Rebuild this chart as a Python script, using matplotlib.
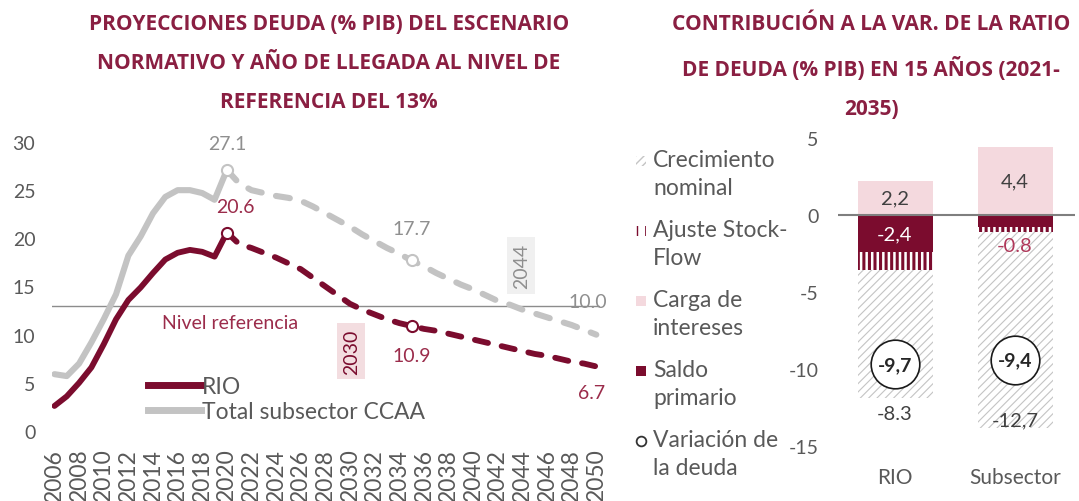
import matplotlib
matplotlib.use("Agg")
import matplotlib.pyplot as plt
from matplotlib.lines import Line2D
from matplotlib.patches import Rectangle

plt.rcParams['font.family'] = ['Lato', 'DejaVu Sans']
plt.rcParams['axes.unicode_minus'] = False

# ---- left chart: debt projections (% PIB) ----
years_hist = list(range(2006, 2021))
rio_hist = [2.6, 3.6, 5.0, 6.6, 9.0, 11.6, 13.6, 14.9, 16.4, 17.8, 18.5, 18.8, 18.6, 18.1, 20.6]
ccaa_hist = [5.9, 5.7, 7.0, 9.2, 11.6, 14.2, 18.2, 20.2, 22.6, 24.3, 25.0, 25.0, 24.7, 24.0, 27.1]
years_proj = list(range(2020, 2051))
rio_proj = [20.6, 19.4, 19.0, 18.5, 18.0, 17.4, 16.8, 15.9, 15.0, 14.1, 13.2, 12.6, 12.1, 11.6, 11.2,
            10.9, 10.6, 10.4, 10.1, 9.8, 9.5, 9.2, 8.9, 8.6, 8.3, 8.0, 7.8, 7.5, 7.2, 7.0, 6.7]
ccaa_proj = [27.1, 25.7, 25.0, 24.7, 24.4, 24.2, 23.9, 23.3, 22.6, 21.9, 21.2, 20.4, 19.7, 19.0, 18.4,
             17.7, 17.1, 16.4, 15.8, 15.2, 14.7, 14.1, 13.5, 13.1, 12.6, 12.2, 11.8, 11.4, 11.0, 10.5, 10.0]
ref_level = 13
rio_year_ref = 2030
ccaa_year_ref = 2044
marked_years = [2020, 2035]

# ---- right chart: contributions 2021-2035 ----
categories = ['RIO', 'Subsector']
carga = [2.2, 4.4]
saldo = [-2.4, -0.8]
stock_flow = [-1.2, -0.3]
crecimiento = [-8.3, -12.7]
variacion = [-9.7, -9.4]
carga_lbl = ['2,2', '4,4']
saldo_lbl = ['-2,4', '-0.8']
crec_lbl = ['-8.3', '-12,7']
var_lbl = ['-9,7', '-9,4']

RED = '#7b0c2e'
TITLE = '#8a1f42'
PINK = '#f4d9de'
GRAY = '#c3c3c3'
GTXT = '#8f8f8f'
LRED = '#9b2c4b'
TICK = '#595959'

W, H = 1079, 502
fig = plt.figure(figsize=(W / 100, H / 100), dpi=100)

# titles
title_kw = dict(ha='center', va='top', fontsize=15, fontweight='bold', color=TITLE,
                linespacing=2.14, family=['Open Sans', 'DejaVu Sans'])
fig.text(329 / W, 1 - 14 / H,
         'PROYECCIONES DEUDA (% PIB) DEL ESCENARIO\nNORMATIVO Y AÑO DE LLEGADA AL NIVEL DE\nREFERENCIA DEL 13%',
         **title_kw)
fig.text(871 / W, 1 - 14 / H,
         'CONTRIBUCIÓN A LA VAR. DE LA RATIO\nDE DEUDA (% PIB) EN 15 AÑOS (2021-\n2035)',
         **title_kw)

# ---------------- left axes ----------------
ax1 = fig.add_axes([52 / W, (H - 432) / H, 548 / W, 289 / H])
ax1.set_xlim(2005.8, 2050.3)
ax1.set_ylim(0, 30)
for s in ax1.spines.values():
    s.set_visible(False)

ax1.axhline(ref_level, color='#8c8c8c', lw=1, zorder=1)

dash = (0, (2.3, 2.4))
ax1.plot(years_hist, ccaa_hist, color=GRAY, lw=4.4, solid_capstyle='round', zorder=2)
ax1.plot(years_proj, ccaa_proj, color=GRAY, lw=4.4, ls=dash, dash_capstyle='round', zorder=2)
ax1.plot(years_hist, rio_hist, color=RED, lw=4.2, solid_capstyle='round', zorder=3)
ax1.plot(years_proj, rio_proj, color=RED, lw=4.2, ls=dash, dash_capstyle='round', zorder=3)

for yr in marked_years:
    i = years_proj.index(yr)
    ax1.plot(yr, ccaa_proj[i], 'o', ms=8, mfc='white', mec=GRAY, mew=1.5, zorder=4)
    ax1.plot(yr, rio_proj[i], 'o', ms=8, mfc='white', mec=RED, mew=1.5, zorder=4)

lbl = dict(fontsize=14, ha='center', va='center')
ax1.text(2020, ccaa_proj[0] + 2.7, f'{ccaa_proj[0]:.1f}', color=GTXT, **lbl)
ax1.text(2020.7, rio_proj[0] + 2.7, f'{rio_proj[0]:.1f}', color=LRED, **lbl)
ax1.text(2035, ccaa_proj[15] + 3.3, f'{ccaa_proj[15]:.1f}', color=GTXT, **lbl)
ax1.text(2035, rio_proj[15] - 3.1, f'{rio_proj[15]:.1f}', color=LRED, **lbl)
ax1.text(2049.3, ccaa_proj[-1] + 3.4, f'{ccaa_proj[-1]:.1f}', color=GTXT, **lbl)
ax1.text(2049.6, rio_proj[-1] - 2.7, f'{rio_proj[-1]:.1f}', color=LRED, **lbl)

ax1.text(2020.3, 11.3, 'Nivel referencia', color=LRED, **lbl)
ax1.text(rio_year_ref + 0.1, 8.3, str(rio_year_ref), rotation=90, ha='center', va='center',
         fontsize=14, color=RED, bbox=dict(facecolor='#f3dde0', edgecolor='none', pad=4))
ax1.text(ccaa_year_ref - 0.1, 17.2, str(ccaa_year_ref), rotation=90, ha='center', va='center',
         fontsize=14, color=GTXT, bbox=dict(facecolor='#f0f0f0', edgecolor='none', pad=4))

ax1.set_yticks(range(0, 31, 5))
ax1.set_xticks(range(2006, 2051, 2))
ax1.set_xticklabels([str(y) for y in range(2006, 2051, 2)], rotation=90)
ax1.tick_params(axis='y', length=0, pad=12, labelsize=14, labelcolor=TICK)
ax1.tick_params(axis='x', length=0, pad=12, labelsize=16.5, labelcolor=TICK)

ax1.legend(handles=[Line2D([], [], color=RED, lw=5), Line2D([], [], color=GRAY, lw=5)],
           labels=['RIO', 'Total subsector CCAA'], loc='upper left',
           bbox_to_anchor=(137 / W, 1 - 366 / H), bbox_transform=fig.transFigure,
           frameon=False, borderpad=0, handlelength=2.3, handletextpad=0.05,
           labelspacing=0.15, fontsize=16.5, labelcolor=TICK)

# ---------------- right axes ----------------
ax2 = fig.add_axes([838 / W, (H - 447) / H, 237 / W, 308 / H])
ax2.set_xlim(-0.475, 1.5)
ax2.set_ylim(-15, 5)
for s in ax2.spines.values():
    s.set_visible(False)

x = list(range(len(categories)))
bw = 0.625
base_sf = saldo
base_cr = [s + f for s, f in zip(saldo, stock_flow)]
ax2.bar(x, carga, bw, color=PINK, lw=0, zorder=2)
ax2.bar(x, saldo, bw, color=RED, lw=0, zorder=2)
sf = ax2.bar(x, stock_flow, bw, bottom=base_sf, facecolor='white', edgecolor=RED, hatch='|||', lw=0, zorder=2)
cr = ax2.bar(x, crecimiento, bw, bottom=base_cr, facecolor='white', edgecolor='#c4c4c4', hatch='////', lw=0, zorder=2)
for p in sf:
    if hasattr(p, 'set_hatch_linewidth'):
        p.set_hatch_linewidth(2.2)
for p in cr:
    if hasattr(p, 'set_hatch_linewidth'):
        p.set_hatch_linewidth(0.8)
ax2.axhline(0, color='#7f7f7f', lw=1.5, zorder=3)

ax2.plot(x, variacion, 'o', ms=35, mfc='white', mec='#1a1a1a', mew=1.2, zorder=4)
bl = dict(ha='center', va='center', fontsize=14.5, zorder=5)
for i in x:
    ax2.text(i, variacion[i], var_lbl[i], ha='center', va='center', fontsize=14,
             fontweight='bold', color='#262626', zorder=5)
    ax2.text(i, carga[i] / 2, carga_lbl[i], color='#404040', **bl)
    bottom = base_cr[i] + crecimiento[i]
    if i == 0:
        ax2.text(i, saldo[i] / 2, saldo_lbl[i], color='white', **bl)
        ax2.text(i, bottom - 1.0, crec_lbl[i], color='#404040', **bl)
    else:
        ax2.text(i, base_cr[i] - 0.9, saldo_lbl[i], color='#b0385a', **bl)
        ax2.text(i, bottom + 0.5, crec_lbl[i], color='#404040', **bl)

ax2.set_yticks(range(-15, 6, 5))
ax2.set_xticks(x)
ax2.set_xticklabels(categories)
ax2.tick_params(axis='y', length=0, pad=14, labelsize=14, labelcolor=TICK)
ax2.tick_params(axis='x', length=0, pad=15, labelsize=15, labelcolor=TICK)

# legend for right chart, drawn by hand so the marker sits on the first text line
leg_labels = ['Crecimiento\nnominal', 'Ajuste Stock-\nFlow', 'Carga de\nintereses',
              'Saldo\nprimario', 'Variación de\nla deuda']
leg_y = [162, 232, 302, 372, 442]
styles = [dict(facecolor='white', edgecolor='#c4c4c4', hatch='////', lw=0),
          dict(facecolor='white', edgecolor=RED, hatch='||', lw=0),
          dict(facecolor=PINK, lw=0),
          dict(facecolor=RED, lw=0)]
for k, (lab, yy) in enumerate(zip(leg_labels, leg_y)):
    fig.text(653 / W, 1 - (yy - 12) / H, lab, ha='left', va='top', fontsize=16.5,
             color=TICK, linespacing=1.4)
    if k == 4:
        fig.add_artist(Line2D([641 / W], [1 - yy / H], marker='o', ls='none', ms=7,
                              mfc='white', mec='#333333', mew=1.3))
    else:
        fig.add_artist(Rectangle((636 / W, 1 - (yy + 5) / H), 10 / W, 10 / H,
                                 transform=fig.transFigure, **styles[k]))

fig.savefig('out.png', dpi=100)
